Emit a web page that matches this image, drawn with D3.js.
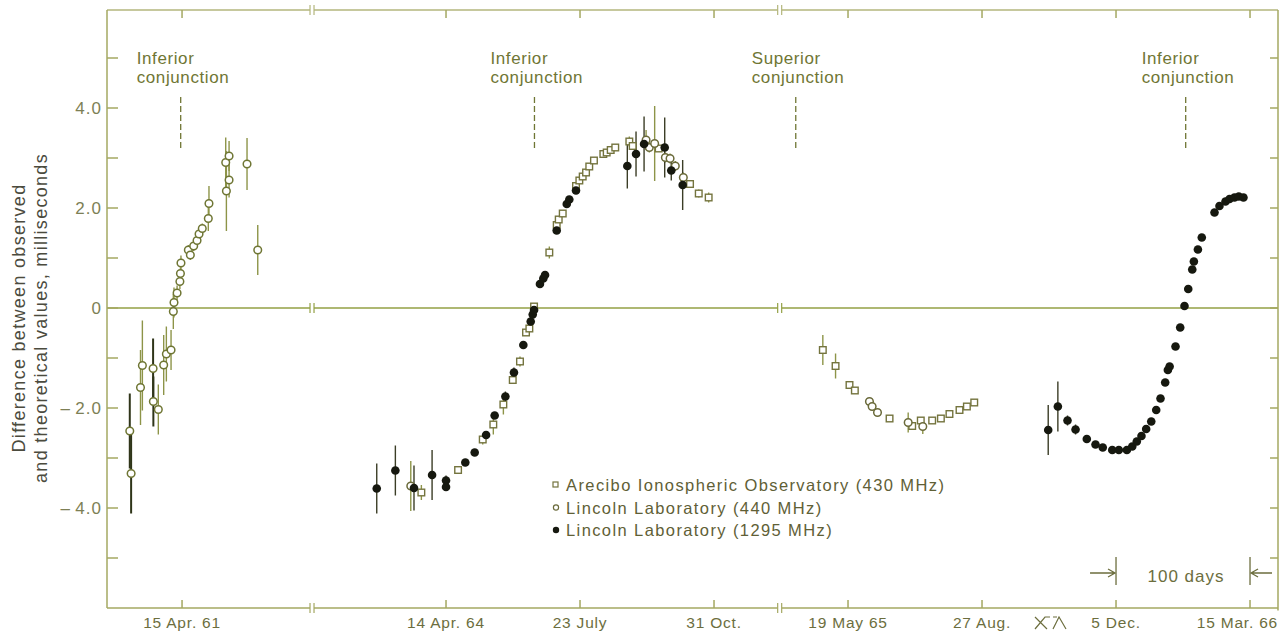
<!DOCTYPE html>
<html>
<head>
<meta charset="utf-8">
<script src="https://cdnjs.cloudflare.com/ajax/libs/d3/7.8.5/d3.min.js"></script>
<style>
body { margin: 0; background: #fff; }
svg { font-family: "Liberation Sans", Arial, sans-serif; }
</style>
</head>
<body>
<svg id="chart"></svg>
<script>
// broken time axis: three pieces, same days-per-pixel
var segStarts = ["1961-02-18", "1964-01-05", "1965-03-29"];
var segEnds   = ["1961-07-21", "1964-12-19", "1966-04-05"];

var tickDates  = ["1961-04-15", "1964-04-14", "1964-07-23", "1964-10-31", "1965-05-19", "1965-08-27", "1965-12-05", "1966-03-15"];
var tickLabels = ["15 Apr. 61", "14 Apr. 64", "23 July", "31 Oct.", "19 May 65", "27 Aug.", "5 Dec.", "15 Mar. 66"];

var yTicks  = [-5, -4, -3, -2, -1, 0, 1, 2, 3, 4, 5];
var yLabels = {"4": "4.0", "2": "2.0", "0": "0", "-2": "\u2013\u20092.0", "-4": "\u2013\u20094.0"};

var conjDates  = ["1961-04-14", "1964-06-19", "1965-04-10", "1966-01-26"];
var conjLabels = [["Inferior", "conjunction"], ["Inferior", "conjunction"], ["Superior", "conjunction"], ["Inferior", "conjunction"]];

var legendLabels = ["Arecibo Ionospheric Observatory  (430 MHz)", "Lincoln Laboratory (440 MHz)", "Lincoln Laboratory (1295 MHz)"];

// [days from reference date, difference (ms), error half-length, dark bar]
// reference 15 Apr. 61
var lincoln440_61 = [
    [-39, -2.46, 0.75, 1], [-38, -3.31, 0.8, 1], [-31, -1.59, 0.75], [-29.6, -1.15, 0.9],
    [-21.6, -1.21, 0.6, 1], [-21.4, -1.87, 0.5, 1], [-17.7, -2.03, 0.5], [-13.7, -1.14, 0.6],
    [-11.7, -0.92, 0.55], [-8.2, -0.84, 0.4], [-6.5, -0.07, 0.35], [-6, 0.11, 0.3],
    [-3.7, 0.3, 0.15], [-1.6, 0.53, 0.15], [-1.2, 0.69, 0.12], [-0.8, 0.9, 0.15],
    [4.7, 1.16, 0.1], [6.2, 1.06, 0.1], [8.7, 1.24, 0.1], [11.2, 1.35, 0.1],
    [12.7, 1.48, 0.1], [15.1, 1.59, 0.1], [19.6, 1.79, 0.25], [20.1, 2.09, 0.35],
    [32.6, 2.91, 0.5], [33.1, 2.34, 0.8], [35.1, 3.04, 0.3], [35.1, 2.56, 0.35],
    [48.5, 2.88, 0.52], [56.5, 1.16, 0.5]
];
// reference 14 Apr. 64
var arecibo64 = [
    [-18.4, -3.69, 0.15], [9, -3.24, 0], [27.4, -2.63, 0.1], [35.3, -2.33, 0.2], [42.8, -1.93, 0.2],
    [49.8, -1.44, 0], [55.2, -1.07, 0.1], [59.7, -0.49, 0], [62.2, -0.41, 0], [65.7, 0.03, 0],
    [77.1, 1.11, 0.12], [82.6, 1.66, 0], [84.1, 1.77, 0], [87.1, 1.89, 0], [97, 2.44, 0],
    [99.5, 2.55, 0], [102, 2.63, 0], [104.5, 2.71, 0], [106.9, 2.83, 0], [110.4, 2.95, 0],
    [117.4, 3.08, 0], [119.9, 3.11, 0], [122.9, 3.16, 0], [126.3, 3.21, 0], [136.8, 3.33, 0.1],
    [139.3, 3.24, 0], [158.7, 3.19, 0], [182.1, 2.48, 0], [188.6, 2.29, 0.08], [196, 2.21, 0.1]
];
var lincoln440_64 = [
    [-26.3, -3.56, 0.5], [149.3, 3.36, 0.2], [151.7, 3.21, 0.1], [155.7, 3.29, 0.75],
    [163.7, 3.01, 0.1], [167.2, 2.99, 0.1], [171.1, 2.84, 0.1], [177.1, 2.61, 0.1]
];
var lincoln1295_64 = [
    [-51.7, -3.61, 0.5], [-37.8, -3.25, 0.5], [-23.9, -3.6, 0.45], [-10.4, -3.34, 0.5],
    [0, -3.45, 0.1], [0, -3.58, 0], [14.4, -3.09, 0], [21.4, -2.89, 0], [29.9, -2.54, 0],
    [36.3, -2.15, 0], [44.3, -1.77, 0.1], [50.7, -1.29, 0.1], [57.7, -0.74, 0], [63.2, -0.27, 0],
    [64.7, -0.13, 0], [65.7, -0.04, 0], [70.1, 0.48, 0], [72.6, 0.59, 0], [73.9, 0.66, 0],
    [82.6, 1.55, 0], [90.1, 2.08, 0], [92, 2.17, 0], [97, 2.35, 0], [135.3, 2.84, 0.45],
    [141.8, 3.08, 0.45], [147.8, 3.28, 0.55], [163.2, 3.21, 0.6], [168.1, 2.75, 0.2], [176.6, 2.46, 0.5]
];
// reference 19 May 65
var arecibo65 = [
    [-18.8, -0.84, 0.3], [-9.3, -1.16, 0.25], [1.1, -1.54, 0], [5.1, -1.65, 0], [31, -2.21, 0],
    [47.9, -2.36, 0], [54.3, -2.25, 0], [62.8, -2.25, 0], [69.3, -2.21, 0], [75.7, -2.12, 0],
    [83.2, -2.04, 0], [88.7, -1.97, 0], [94.2, -1.89, 0]
];
var lincoln440_65 = [
    [16, -1.87, 0], [18, -1.97, 0], [22, -2.09, 0], [44.9, -2.29, 0.2], [55.8, -2.37, 0.15]
];
var lincoln1295_65 = [
    [149.4, -2.44, 0.5], [156.6, -1.97, 0.5], [163.8, -2.25, 0.1], [169.8, -2.43, 0.1], [178.2, -2.62, 0],
    [184.7, -2.73, 0], [190.1, -2.79, 0], [197.2, -2.84, 0], [202.1, -2.84, 0], [208.1, -2.84, 0],
    [212.1, -2.77, 0], [215.5, -2.67, 0], [219, -2.56, 0], [222.5, -2.42, 0], [226.3, -2.27, 0],
    [230, -2.04, 0], [233.2, -1.81, 0], [236.7, -1.49, 0], [238.7, -1.24, 0], [240, -1.17, 0],
    [244.4, -0.77, 0], [247.9, -0.39, 0], [251.1, 0.04, 0], [253.9, 0.38, 0], [256.9, 0.77, 0],
    [258.1, 0.93, 0], [261.1, 1.17, 0], [264, 1.41, 0], [273.5, 1.91, 0], [277.2, 2.04, 0],
    [281.7, 2.13, 0], [284.7, 2.18, 0], [288.4, 2.21, 0], [291.6, 2.23, 0], [295.1, 2.21, 0]
];

var W = 1287, H = 636;
var left = 107, right = 1278, pxPerDay = 1.34;
var parse = d3.utcParse("%Y-%m-%d");
var dayMs = 864e5;

var olive = "#6f7634", axisCol = "#a4a862", textCol = "#6c6e3e", dark = "#16180f";

function buildX() {
    var dom = [], rng = [], x0 = left;
    segStarts.forEach((s, i) => {
        var a = parse(s), b = parse(segEnds[i]);
        dom.push(a, b);
        rng.push(x0, x0 + (b - a) / dayMs * pxPerDay);
        x0 = rng[rng.length - 1];
    });
    return d3.scaleUtc().domain(dom).range(rng);
}

var x = buildX();
var y = d3.scaleLinear().domain([-6, 6]).range([608, 8]);
var breaks = [x(parse(segEnds[0])), x(parse(segEnds[1]))];

function rows(ref, arr, type) {
    var r = parse(ref);
    return arr.map(d => ({date: new Date(+r + d[0] * dayMs), value: d[1], err: d[2], dark: d[3], type: type}));
}

var points = [].concat(
    rows("1961-04-15", lincoln440_61, "c61"),
    rows("1964-04-14", arecibo64, "sq"),
    rows("1964-04-14", lincoln440_64, "c"),
    rows("1964-04-14", lincoln1295_64, "f"),
    rows("1965-05-19", arecibo65, "sq"),
    rows("1965-05-19", lincoln440_65, "c"),
    rows("1965-05-19", lincoln1295_65, "f")
);

var svg = d3.select("#chart").attr("width", W).attr("height", H);

// horizontal line broken at the axis breaks
function brokenLine(yy, col, marks) {
    var xs = [left].concat(breaks).concat([right]);
    for (var i = 0; i < xs.length - 1; i++) {
        var a = xs[i] + (i > 0 ? 2 : 0), b = xs[i + 1] - (i < xs.length - 2 ? 2 : 0);
        svg.append("line").attr("x1", a).attr("x2", b).attr("y1", yy).attr("y2", yy)
            .attr("stroke", col).attr("stroke-width", 1.5);
    }
    if (marks) breaks.forEach(bx => {
        [-2, 2].forEach(o => svg.append("line")
            .attr("x1", bx + o).attr("x2", bx + o).attr("y1", yy - 5).attr("y2", yy + 5)
            .attr("stroke", col).attr("stroke-width", 1.2));
    });
}

// frame
brokenLine(y(5.96), "#b3b67c", true);
brokenLine(y(-6), axisCol, true);
brokenLine(y(0), "#93a045", true);
svg.append("line").attr("x1", left).attr("x2", left).attr("y1", y(5.96)).attr("y2", y(-6))
    .attr("stroke", axisCol).attr("stroke-width", 1.5);
svg.append("line").attr("x1", right).attr("x2", right).attr("y1", y(5.96)).attr("y2", y(-6.05))
    .attr("stroke", axisCol).attr("stroke-width", 1.5);

// y ticks (both sides, inward) and labels
svg.append("g").selectAll("line").data(yTicks).join("line")
    .attr("x1", left).attr("x2", left + 11).attr("y1", d => y(d)).attr("y2", d => y(d))
    .attr("stroke", axisCol).attr("stroke-width", 1.5);
svg.append("g").selectAll("line").data(yTicks).join("line")
    .attr("x1", right - 8).attr("x2", right).attr("y1", d => y(d)).attr("y2", d => y(d))
    .attr("stroke", axisCol).attr("stroke-width", 1.5);
svg.append("g").selectAll("text").data(yTicks.filter(d => yLabels[d])).join("text")
    .attr("x", 102).attr("y", d => y(d) + 6)
    .attr("text-anchor", "end").attr("font-size", 17).attr("letter-spacing", 1)
    .attr("fill", "#7d7f55").text(d => yLabels[d]);

// x ticks top and bottom, labels
var ticks = tickDates.map(parse);
svg.append("g").selectAll("line").data(ticks).join("line")
    .attr("x1", d => x(d)).attr("x2", d => x(d)).attr("y1", y(-6) - 8).attr("y2", y(-6))
    .attr("stroke", axisCol).attr("stroke-width", 1.5);
svg.append("g").selectAll("line").data(ticks).join("line")
    .attr("x1", d => x(d)).attr("x2", d => x(d)).attr("y1", y(5.96)).attr("y2", y(5.96) + 8)
    .attr("stroke", axisCol).attr("stroke-width", 1.5);
svg.append("g").selectAll("text").data(ticks).join("text")
    .attr("x", (d, i) => i === ticks.length - 1 ? right : x(d))
    .attr("y", 628)
    .attr("text-anchor", (d, i) => i === ticks.length - 1 ? "end" : "middle")
    .attr("font-size", 15.5).attr("letter-spacing", 0.8)
    .attr("fill", textCol).text((d, i) => tickLabels[i]);

// small break sign between 27 Aug. and 5 Dec.
svg.append("path")
    .attr("d", "M1035,617 L1047,629 M1035,629 L1045,617 L1050,617 M1053,629 L1059,617 L1066,629 M1053,617 L1057,617")
    .attr("fill", "none").attr("stroke", textCol).attr("stroke-width", 1.2);

// conjunction markers
conjDates.forEach((c, i) => {
    var cx = x(parse(c));
    svg.append("line").attr("x1", cx).attr("x2", cx).attr("y1", 97).attr("y2", 151)
        .attr("stroke", olive).attr("stroke-width", 1.3).attr("stroke-dasharray", "6,3");
    var t = svg.append("text").attr("x", cx - 44).attr("y", 64)
        .attr("font-size", 17).attr("letter-spacing", 0.6).attr("fill", olive);
    t.append("tspan").attr("x", cx - 44).text(conjLabels[i][0]);
    t.append("tspan").attr("x", cx - 44).attr("dy", 19).text(conjLabels[i][1]);
});

// y title
var yt = svg.append("text").attr("transform", "translate(0,318) rotate(-90)")
    .attr("text-anchor", "middle").attr("font-size", 18).attr("letter-spacing", 1.3)
    .attr("fill", "#4b4b3e");
yt.append("tspan").attr("x", 0).attr("y", 25).text("Difference between observed");
yt.append("tspan").attr("x", 0).attr("y", 47).text("and theoretical values, milliseconds");

// error bars
svg.append("g").selectAll("line").data(points.filter(d => d.err > 0)).join("line")
    .attr("x1", d => x(d.date)).attr("x2", d => x(d.date))
    .attr("y1", d => y(d.value + d.err)).attr("y2", d => y(d.value - d.err))
    .attr("stroke", d => d.dark ? "#2f3519" : (d.type === "f" ? "#3b3d26" : "#8d9448"))
    .attr("stroke-width", d => d.dark ? 2 : 1.4);

// markers
svg.append("g").selectAll("rect").data(points.filter(d => d.type === "sq")).join("rect")
    .attr("x", d => x(d.date) - 3.3).attr("y", d => y(d.value) - 3.3)
    .attr("width", 6.6).attr("height", 6.6)
    .attr("fill", "#fff").attr("stroke", "#74743e").attr("stroke-width", 1.4);
svg.append("g").selectAll("circle").data(points.filter(d => d.type === "c" || d.type === "c61")).join("circle")
    .attr("cx", d => x(d.date)).attr("cy", d => y(d.value)).attr("r", 3.8)
    .attr("fill", "#fff").attr("stroke", d => d.type === "c61" ? olive : "#6a6a3a").attr("stroke-width", 1.5);
svg.append("g").selectAll("circle").data(points.filter(d => d.type === "f")).join("circle")
    .attr("cx", d => x(d.date)).attr("cy", d => y(d.value)).attr("r", 4.3)
    .attr("fill", dark);

// legend
var lg = svg.append("g");
legendLabels.forEach((l, i) => {
    var ly = 491 + i * 22.5;
    lg.append("text").attr("x", 566).attr("y", ly).attr("font-size", 16.5).attr("letter-spacing", 1.4)
        .attr("fill", "#5f6036").text(l);
    if (i === 0) lg.append("rect").attr("x", 553).attr("y", ly - 9).attr("width", 5).attr("height", 5)
        .attr("fill", "#fff").attr("stroke", "#74743e").attr("stroke-width", 1.2);
    if (i === 1) lg.append("circle").attr("cx", 556).attr("cy", ly - 6).attr("r", 2.6)
        .attr("fill", "#fff").attr("stroke", "#6a6a3a").attr("stroke-width", 1.2);
    if (i === 2) lg.append("circle").attr("cx", 556).attr("cy", ly - 6).attr("r", 3.2).attr("fill", dark);
});

// 100 days scale bar
var d0 = x(parse(tickDates[6])), d1 = x(parse(tickDates[7]));
[d0, d1].forEach(v => svg.append("line").attr("x1", v).attr("x2", v).attr("y1", 557).attr("y2", 585)
    .attr("stroke", textCol).attr("stroke-width", 1.3));
svg.append("path")
    .attr("d", `M${d0 - 26},573 L${d0 - 1},573 M${d0 - 8},569 L${d0 - 1},573 L${d0 - 8},577` +
               `M${d1 + 22},573 L${d1 + 1},573 M${d1 + 8},569 L${d1 + 1},573 L${d1 + 8},577`)
    .attr("fill", "none").attr("stroke", textCol).attr("stroke-width", 1.3);
svg.append("text").attr("x", (d0 + d1) / 2 + 3).attr("y", 582).attr("text-anchor", "middle")
    .attr("font-size", 17).attr("letter-spacing", 1).attr("fill", textCol).text("100 days");
</script>
</body>
</html>
